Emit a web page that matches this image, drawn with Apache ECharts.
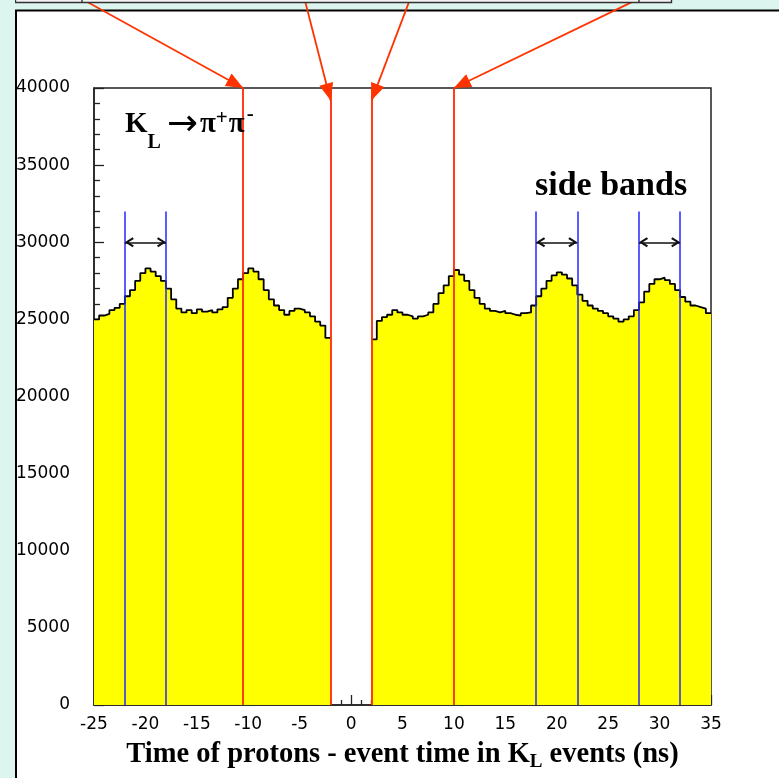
<!DOCTYPE html>
<html><head><meta charset="utf-8">
<script src="https://cdn.jsdelivr.net/npm/echarts@6/dist/echarts.min.js"></script>
<style>html,body{margin:0;padding:0;background:#dcf5ef;}#c{width:779px;height:778px;}</style>
</head><body><div id="c"></div>
<script>
// ---- data ----
const binWidth = 0.5;                 // ns
const leftRange = [-25, -2];          // ns
const rightRange = [2, 35];           // ns
const leftCounts = [25000,25250,25350,25600,25750,26000,26500,26900,27500,28000,28300,28100,27800,27500,27000,26300,25700,25450,25600,25400,25650,25500,25600,25450,25650,25800,26400,27000,27600,28000,28300,28100,27600,26900,26300,25900,25600,25300,25550,25700,25600,25450,25200,24850,24600,23800];
const rightCounts = [23700,24900,25150,25300,25600,25450,25300,25200,25050,25200,25300,25450,26000,26700,27200,27800,28200,27900,27500,26900,26400,26000,25700,25550,25450,25550,25400,25300,25250,25400,25450,25900,26500,27000,27500,27850,28050,27900,27650,27200,26600,26200,25900,25700,25550,25400,25200,25050,24850,25000,25200,25600,26100,26800,27300,27600,27700,27550,27300,26900,26450,26150,25900,25800,25700,25400];
const redCuts = [-10.5, -2, 2, 10];               // ns
const sideBandEdges = [-22, -18, 18, 22, 28, 32];  // ns
const sideBandPairs = [[-22, -18], [18, 22], [28, 32]];
const sideBandLineTop = 32000;
const sideBandArrowLevel = 30000;
const arrowFrom = [[-26.0, 45700], [-4.5, 45700], [5.7, 45700], [27.7, 45700]];
const arrowTo = [[-10.5, 40000], [-2, 39200], [2, 39200], [10, 40000]];
const xTicks = {min: -25, max: 35, interval: 5};
const yTicks = {min: 0, max: 40000, interval: 5000};

function histData(counts, range) {
  const d = counts.map((v, i) => [range[0] + i * binWidth, v]);
  d.push([range[1], counts[counts.length - 1]]);
  return d;
}

const chart = echarts.init(document.getElementById('c'), null, {renderer: 'canvas'});
const serif = 'Liberation Serif';
const sans = 'DejaVu Sans';
const RED = '#ff2a00';
const BLUE = '#2626ff';
const arrowPath = 'path://M5,12 L10,24 L0,24 Z M-7,0 M17,0';
const chevronPath = 'path://M5,12 L10,20 L8.3,21.2 L5,15.8 L1.7,21.2 L0,20 Z M-4,3 M14,3';

const histStyle = {
  type: 'line', step: 'end', showSymbol: false, symbol: 'none',
  lineStyle: {color: '#000', width: 1.8},
  areaStyle: {color: '#ffff00', opacity: 1, origin: 'start'},
  animation: false, z: 2
};

chart.setOption({
  backgroundColor: '#dcf5ef',
  animation: false,
  grid: {left: 94, right: 68, top: 88, bottom: 73, show: true, backgroundColor: '#fff', borderColor: '#222', borderWidth: 1.5},
  xAxis: {
    type: 'value', min: xTicks.min, max: xTicks.max, interval: xTicks.interval,
    axisLine: {onZero: false, lineStyle: {color: '#222', width: 1.5}},
    axisTick: {inside: true, length: 10, lineStyle: {color: '#222', width: 1.3}},
    minorTick: {show: true, splitNumber: 5, length: 5, lineStyle: {color: '#222', width: 1.3}},
    splitLine: {show: false},
    axisLabel: {color: '#000', fontFamily: sans, fontSize: 17, margin: 11},
    name: '{t|Time of protons - event time in K}{s|L}{t| events (ns)}',
    nameLocation: 'middle', nameGap: 33,
    nameTextStyle: {rich: {
      t: {fontFamily: serif, fontWeight: 'bold', fontSize: 28.5, color: '#000', lineHeight: 34},
      s: {fontFamily: serif, fontWeight: 'bold', fontSize: 19, color: '#000', verticalAlign: 'bottom', lineHeight: 18}
    }}
  },
  yAxis: {
    type: 'value', min: yTicks.min, max: yTicks.max, interval: yTicks.interval,
    axisLine: {show: true, onZero: false, lineStyle: {color: '#222', width: 1.5}},
    axisTick: {show: true, inside: true, length: 10, lineStyle: {color: '#222', width: 1.3}},
    minorTick: {show: true, splitNumber: 5, length: 6, lineStyle: {color: '#222', width: 1.3}},
    splitLine: {show: false},
    axisLabel: {color: '#000', fontFamily: sans, fontSize: 17, margin: 24, formatter: v => String(v)}
  },
  series: [
    Object.assign({name: 'left', data: histData(leftCounts, leftRange)}, histStyle),
    Object.assign({name: 'right', data: histData(rightCounts, rightRange)}, histStyle),
    {
      name: 'redCuts', type: 'lines', coordinateSystem: 'cartesian2d', z: 5, clip: false,
      symbol: 'none', lineStyle: {color: RED, width: 1.8, opacity: 1},
      data: redCuts.map(x => ({coords: [[x, yTicks.min], [x, yTicks.max]]}))
    },
    {
      name: 'sideBandEdges', type: 'lines', coordinateSystem: 'cartesian2d', z: 4,
      symbol: 'none', lineStyle: {color: BLUE, width: 1.5, opacity: 1},
      data: sideBandEdges.map(x => ({coords: [[x, yTicks.min], [x, sideBandLineTop]]}))
    },
    {
      name: 'sideBandArrows', type: 'lines', coordinateSystem: 'cartesian2d', z: 6,
      symbol: [chevronPath, chevronPath], symbolSize: 18,
      lineStyle: {color: '#111', width: 1.6, opacity: 1},
      itemStyle: {color: '#111'},
      data: sideBandPairs.map(p => ({coords: [[p[0], sideBandArrowLevel], [p[1], sideBandArrowLevel]]}))
    },
    {
      name: 'pointers', type: 'lines', coordinateSystem: 'cartesian2d', z: 7, clip: false,
      symbol: ['none', arrowPath], symbolSize: 34,
      lineStyle: {color: '#ff3300', width: 1.8, opacity: 1},
      itemStyle: {color: '#ff3300'},
      data: arrowFrom.map((f, i) => ({coords: [f, arrowTo[i]]}))
    }
  ],
  graphic: [
    {type: 'rect', z: -10, silent: true, shape: {x: 16, y: 10.5, width: 800, height: 800}, style: {fill: '#fff', stroke: '#000', lineWidth: 2}},
    {type: 'rect', z: 50, silent: true, shape: {x: 15.5, y: -5, width: 656, height: 7.5}, style: {fill: '#f2f2f2', stroke: '#333', lineWidth: 1.4}},
    {type: 'line', z: 51, silent: true, shape: {x1: 82, y1: -5, x2: 82, y2: 2.5}, style: {stroke: '#333', lineWidth: 1.4}},
    {type: 'line', z: 51, silent: true, shape: {x1: 639, y1: -5, x2: 639, y2: 2.5}, style: {stroke: '#333', lineWidth: 1.4}},
    {type: 'rect', z: 100, silent: true, shape: {x: 0, y: 0, width: 15, height: 778}, style: {fill: '#dcf5ef'}},
    {type: 'line', z: 101, silent: true, shape: {x1: 16, y1: 10.5, x2: 16, y2: 778}, style: {stroke: '#000', lineWidth: 2}},
    {type: 'text', z: 60, left: 125, top: 97, silent: true, style: {
      text: '{a|K}{s|L}{r|→}{a|π}{p|+}{a|π}{m|-}',
      rich: {
        a: {fontFamily: serif, fontWeight: 'bold', fontSize: 29, fill: '#000', lineHeight: 56},
        r: {fontFamily: 'DejaVu Sans', fontSize: 37, fill: '#000', lineHeight: 56, padding: [0, 2, 0, 6]},
        s: {fontFamily: serif, fontWeight: 'bold', fontSize: 20, fill: '#000', lineHeight: 20, verticalAlign: 'bottom'},
        p: {fontFamily: serif, fontWeight: 'bold', fontSize: 21, fill: '#000', lineHeight: 20, verticalAlign: 'top', padding: [11, 1, 0, 0]},
        m: {fontFamily: serif, fontWeight: 'bold', fontSize: 21, fill: '#000', lineHeight: 20, verticalAlign: 'top', padding: [7, 0, 0, 2]}
      }
    }},
    {type: 'text', z: 60, left: 535, top: 169, silent: true, style: {
      text: 'side bands', fontFamily: serif, fontWeight: 'bold', fontSize: 34, fill: '#000'
    }}
  ]
});
</script>
</body></html>
